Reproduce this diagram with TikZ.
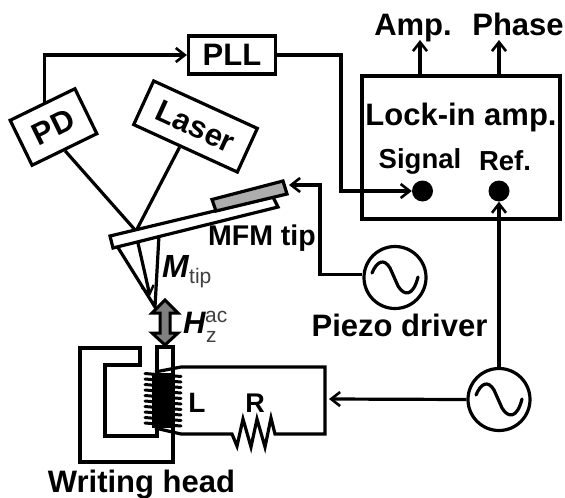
\documentclass[tikz,border=0pt]{standalone}
\usepackage{fontspec}
\setmainfont{Liberation Sans}
\usetikzlibrary{arrows.meta,calc}
\tikzset{
  wire/.style={line width=3.2pt,black,line join=miter},
  sig/.style={wire,-{Straight Barb[length=9pt,width=14pt,line width=2.6pt]}},
  boxnode/.style={draw=black,line width=3.2pt,fill=white,inner sep=0pt,align=center},
  big/.style={font=\fontsize{31}{32}\selectfont\bfseries,inner sep=0pt,anchor=base},
  mid/.style={font=\fontsize{27.5}{29}\selectfont\bfseries,inner sep=0pt,anchor=base},
  sub/.style={font=\fontsize{21}{22}\selectfont,inner sep=0pt,text=black!75},
  src/.style={draw=black,line width=3.2pt,circle,fill=white,inner sep=0pt,minimum size=62pt},
  dot/.style={circle,fill=black,inner sep=0pt,minimum size=21pt},
  tilted/.style={font=\fontsize{31}{32}\selectfont\bfseries}
}
\begin{document}
\begin{tikzpicture}[x=1pt,y=-1pt]
\useasboundingbox (0,0) rectangle (565,498);
% boxes
\node[boxnode,tilted,minimum width=87pt,minimum height=38pt] (pll) at (232,55) {PLL};
\node[boxnode,tilted,rotate=26,minimum width=72pt,minimum height=50pt] (pd) at (53.5,127) {PD};
\node[boxnode,tilted,rotate=-24.6,minimum width=114pt,minimum height=48pt] (laser) at (195.5,126.5) {Laser};
\node[boxnode,minimum width=198pt,minimum height=143pt] (lia) at (461,147.5) {};
\node[big] (liat) at (461,125) {Lock-in amp.};
\node[mid] (sigt) at (420,168) {Signal};
\node[mid] (reft) at (505,170.5) {Ref.};
\node[dot] (sigd) at (422.5,191) {};
\node[dot] (refd) at (499,191) {};
\node[big] (amp) at (413,35) {Amp.};
\node[big] (phase) at (518,35) {Phase};
\coordinate (ampfoot) at (420,76);
\coordinate (phasefoot) at (499,76);
\coordinate (amptop) at (420,40);
\coordinate (phasetop) at (499,40);
\draw[sig] (ampfoot) -- (amptop);
\draw[sig] (phasefoot) -- (phasetop);
% PLL connections
\draw[sig] ([xshift=3pt]pd.north) |- (pll.west);
\draw[sig] (pll.east) -| (341,191) -- (sigd.west);
% beam lines
\coordinate (beam) at (136,231);
\draw[wire] (pd.south) -- (beam);
\draw[wire] ($(laser.south west)!0.45!(laser.south east)$) -- (beam);
% tip
\coordinate (tipa) at (117,246);
\coordinate (tipb) at (159,235);
\coordinate (apex) at (155,307);
\draw[wire,line join=miter] (tipa) -- (apex) -- (tipb);
\coordinate (ma) at (138,243);
\coordinate (mb) at (150,296);
\draw[wire,-{Straight Barb[length=8pt,width=12pt,line width=2.4pt]}] (ma) -- (mb);
% cantilever
\draw[wire,fill=white] (110,236) -- (273,197) -- (278,207) -- (113,248) -- cycle;
\draw[wire,fill=black!32] (212,199.5) -- (283,181) -- (287,194) -- (216,211) -- cycle;
\coordinate (piezoin) at (289,185);
% labels
\node[big,font=\fontsize{28.5}{30}\selectfont\bfseries] (mfm) at (262,245) {MFM tip};
\node[anchor=base west,inner sep=0pt,font=\fontsize{32}{33}\selectfont\bfseries\itshape] (mt) at (162,277) {M};
\node[sub,anchor=base west] (mts) at (189,283) {tip};
\node[anchor=base west,inner sep=0pt,font=\fontsize{31}{32}\selectfont\bfseries\itshape] (hz) at (183,333) {H};
\node[sub,anchor=base west] (hs) at (205,322) {ac};
\node[sub,anchor=base west] (hss) at (206,342) {z};
% gray double arrow
\draw[line width=3pt,fill=black!50,line join=miter] (165,300) -- (178,313) -- (170,313) -- (170,333) -- (178,333) -- (165,345) -- (152,333) -- (160,333) -- (160,313) -- (152,313) -- cycle;
% piezo driver
\node[src] (pz) at (395,277.5) {};
\draw[line width=3.2pt,line cap=round] (372,273) .. controls (377,261) and (384,258) .. (390,268) -- (398,286) .. controls (404,296) and (413,297) .. (418,277);
\draw[sig] ([yshift=3pt]pz.west) -| (320,185) -- (piezoin);
\node[big] (pzt) at (399.5,336) {Piezo driver};
% writing head
\draw[wire] (80,348) -- (140,348) -- (140,365) -- (105,365) -- (105,436) -- (157,436) -- (157,347) -- (173,347) -- (173,462) -- (80,462) -- cycle;
% circuit
\coordinate (cta) at (155,372);
\coordinate (ctb) at (181,367);
\coordinate (cba) at (155,428);
\coordinate (cbb) at (181,434);
\coordinate (rc) at (325,367);
\coordinate (rd) at (325,434);
\draw[wire] (cta) -- (ctb) -- (rc) -- (rd) -- (275,434) -- (271,418) -- (265,447) -- (257,419) -- (251,447) -- (243,419) -- (237,446) -- (232,434) -- (cbb) -- (cba);
\fill[black] (152,373) rectangle (175,428);
\foreach \yy in {375,380.5,...,428}
  \draw[line width=3pt,line cap=round] (145,\yy-1.5) -- (181,\yy+1.5);
\node[big,font=\fontsize{28}{30}\selectfont\bfseries] (lt) at (197,412) {L};
\node[big,font=\fontsize{27}{30}\selectfont\bfseries] (rt) at (255,412.5) {R};
\node[big] (wh) at (141.5,492) {Writing head};
% AC source
\node[src] (ac) at (499,399.5) {};
\draw[line width=3.2pt,line cap=round] (476,395) .. controls (481,383) and (488,380) .. (494,390) -- (502,408) .. controls (508,418) and (517,419) .. (522,399);
\coordinate (rin) at (329,399);
\draw[sig] (ac.west) -- (rin);
\draw[sig] (ac.north) -- (refd.south);
\end{tikzpicture}
\end{document}
